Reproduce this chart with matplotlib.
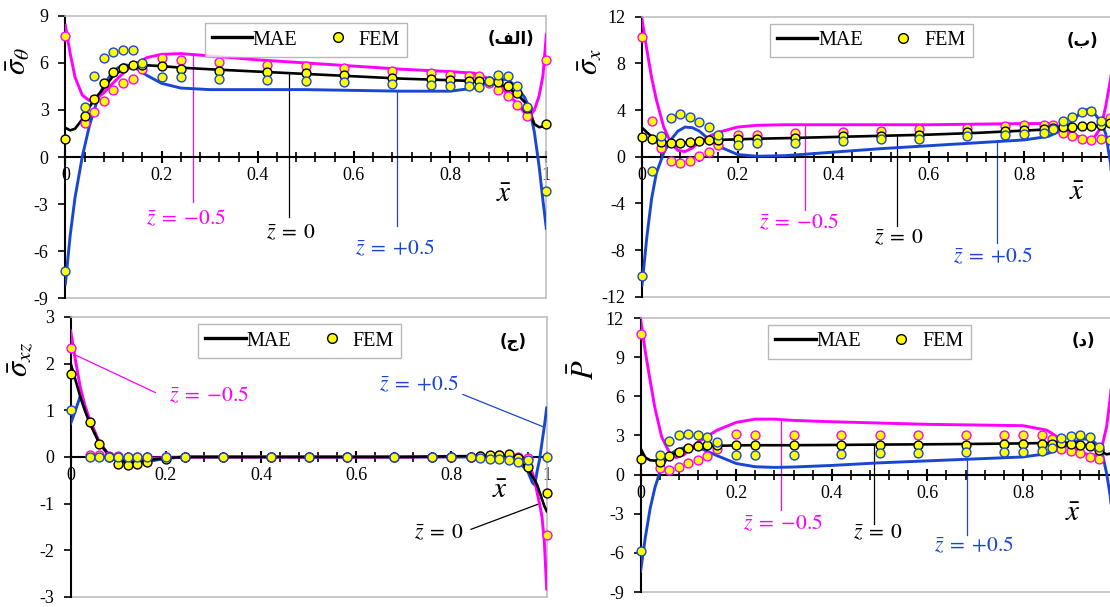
import matplotlib.pyplot as plt
from matplotlib.lines import Line2D
from matplotlib.ticker import MultipleLocator

plt.rcParams['font.family'] = ['Liberation Serif', 'DejaVu Sans']
plt.rcParams['mathtext.fontset'] = 'stix'
plt.rcParams['axes.unicode_minus'] = False

MAG = '#FF00FF'
BLU = '#1A47D0'
GRY = '#BFBFBF'
YEL = '#FFFF00'

# ---------- (الف) sigma_theta ----------
t_x = [0, 0.01, 0.02, 0.035, 0.05, 0.065, 0.08, 0.1, 0.12, 0.14, 0.17, 0.2, 0.24, 0.3, 0.4,
       0.5, 0.6, 0.7, 0.8, 0.85, 0.88, 0.9, 0.92, 0.94, 0.955, 0.965, 0.975, 0.985, 0.993, 1.0]
t_neg = [8.4, 6.6, 5.1, 3.95, 3.6, 3.75, 4.1, 4.75, 5.35, 5.85, 6.35, 6.55, 6.6, 6.45, 6.2,
         6.0, 5.8, 5.6, 5.45, 5.35, 5.0, 4.6, 4.0, 3.4, 2.8, 2.6, 3.0, 3.9, 5.2, 7.8]
t_mid = [1.86, 1.7, 1.8, 2.4, 3.2, 3.85, 4.4, 5.2, 5.6, 5.85, 5.85, 5.8, 5.7, 5.6, 5.45,
         5.3, 5.15, 5.0, 4.9, 4.85, 4.8, 4.7, 4.4, 4.0, 3.5, 3.0, 2.1, 1.9, 1.95, 2.05]
t_pos = [-8.1, -5.0, -2.6, 0.0, 2.0, 3.5, 4.6, 5.5, 5.9, 5.8, 5.2, 4.7, 4.4, 4.3, 4.3,
         4.3, 4.25, 4.2, 4.2, 4.4, 4.75, 4.95, 4.95, 4.4, 3.8, 3.1, 1.6, -0.6, -2.8, -4.55]

fem_x = [0, 0.04, 0.06, 0.08, 0.10, 0.12, 0.14, 0.16, 0.20, 0.24, 0.32, 0.42, 0.50,
         0.58, 0.68, 0.76, 0.80, 0.84, 0.86, 0.88, 0.90, 0.92, 0.94, 0.96, 1.0]
t_fem_neg = [7.7, 2.2, 2.9, 3.6, 4.25, 4.7, 4.95, 5.6, 6.3, 6.2, 6.05, 5.9, 5.8,
             5.65, 5.5, 5.35, 5.25, 5.2, 5.2, 4.7, 4.3, 3.9, 3.35, 2.6, 6.2]
t_fem_mid = [1.15, 2.6, 3.7, 4.7, 5.4, 5.7, 5.85, 5.85, 5.8, 5.6, 5.5, 5.4, 5.35,
             5.25, 5.05, 4.95, 4.9, 4.85, 4.85, 4.85, 4.8, 4.55, 4.1, 3.1, 2.1]
t_fem_pos = [-7.3, 3.2, 5.2, 6.3, 6.7, 6.8, 6.8, 6.0, 5.1, 5.1, 5.0, 4.9, 4.85,
             4.8, 4.65, 4.6, 4.55, 4.5, 4.45, 4.85, 5.25, 5.2, 4.5, 3.2, -2.15]

# ---------- (ب) sigma_x ----------
s_x = [0, 0.01, 0.02, 0.03, 0.045, 0.06, 0.075, 0.09, 0.105, 0.12, 0.14, 0.16, 0.2, 0.24, 0.3,
       0.4, 0.5, 0.6, 0.7, 0.8, 0.85, 0.88, 0.9, 0.915, 0.93, 0.945, 0.96, 0.97, 0.98, 0.99, 1.0]
s_neg = [11.8, 9.2, 6.8, 4.9, 2.6, 1.2, 0.55, 0.45, 0.75, 1.25, 1.75, 2.1, 2.55, 2.7, 2.75,
         2.75, 2.75, 2.75, 2.8, 2.85, 2.85, 2.5, 2.0, 1.7, 1.55, 1.6, 2.5, 4.3, 6.6, 9.5, 12.0]
s_mid = [2.5, 2.1, 1.75, 1.5, 1.3, 1.2, 1.15, 1.2, 1.3, 1.35, 1.45, 1.45, 1.5, 1.55, 1.6,
         1.7, 1.8, 1.9, 2.05, 2.25, 2.35, 2.4, 2.5, 2.55, 2.6, 2.6, 2.65, 2.7, 2.7, 2.6, 2.5]
s_pos = [-11.0, -6.9, -3.6, -1.4, 0.3, 1.45, 2.2, 2.55, 2.5, 2.2, 1.5, 0.9, 0.2, 0.05, 0.1,
         0.4, 0.7, 0.95, 1.2, 1.45, 1.75, 2.3, 3.0, 3.7, 4.05, 3.8, 3.0, 2.0, -0.5, -5.0, -11.0]

s_fem_x = [0, 0.02, 0.04, 0.06, 0.08, 0.10, 0.12, 0.14, 0.16, 0.20, 0.24, 0.32, 0.42, 0.50,
           0.58, 0.68, 0.76, 0.80, 0.84, 0.86, 0.88, 0.90, 0.92, 0.94, 0.96, 0.98, 1.0]
s_fem_neg = [10.3, 3.05, 0.75, -0.35, -0.55, -0.35, 0.1, 0.45, 1.0, 1.9, 1.9, 2.05, 2.15, 2.25,
             2.35, 2.5, 2.6, 2.7, 2.75, 2.7, 2.0, 1.75, 1.55, 1.4, 1.55, 3.3, 10.3]
s_fem_mid = [1.7, 1.55, 1.25, 1.15, 1.15, 1.25, 1.35, 1.4, 1.4, 1.5, 1.5, 1.6, 1.75, 1.8,
             1.9, 2.1, 2.25, 2.3, 2.4, 2.5, 2.55, 2.55, 2.6, 2.65, 2.7, 2.9, 1.7]
s_fem_pos = [-10.2, -1.2, 1.75, 3.3, 3.7, 3.4, 2.95, 2.55, 1.85, 1.05, 1.15, 1.2, 1.35, 1.5,
             1.55, 1.75, 1.9, 1.95, 2.05, 2.35, 3.1, 3.4, 3.85, 3.95, 3.05, 1.45, -10.2]

# ---------- (ج) sigma_xz ----------
q_x = [0, 0.01, 0.02, 0.03, 0.04, 0.06, 0.08, 0.1, 0.12, 0.14, 0.16, 0.2, 0.24, 0.3, 0.5,
       0.7, 0.84, 0.88, 0.9, 0.92, 0.94, 0.96, 0.97, 0.975, 0.98, 0.985, 0.99, 0.995, 1.0]
q_neg = [2.7, 2.07, 1.5, 1.1, 0.8, 0.32, 0.05, -0.02, -0.05, -0.05, -0.04, -0.01, 0.0, 0.0, 0.0,
         0.0, 0.01, 0.02, 0.02, 0.01, -0.03, -0.13, -0.34, -0.5, -0.77, -1.0, -1.27, -1.8, -2.83]
q_mid = [2.0, 1.65, 1.3, 1.0, 0.72, 0.3, 0.05, -0.06, -0.1, -0.1, -0.07, -0.02, 0.0, 0.0, 0.0,
         0.0, 0.02, 0.03, 0.03, 0.01, -0.05, -0.25, -0.42, -0.5, -0.6, -0.75, -0.9, -1.05, -1.16]
q_pos = [0.72, 1.0, 1.3, 1.0, 0.76, 0.3, 0.03, -0.1, -0.12, -0.12, -0.1, -0.03, 0.0, 0.0, 0.0,
         0.0, 0.0, 0.0, 0.0, -0.02, -0.1, -0.3, -0.55, -0.6, -0.3, -0.06, 0.3, 0.65, 1.05]

q_fem_neg = [2.34, 0.05, 0.04, 0.02, 0.02, 0.01, 0.01, 0.01, 0.0, 0.0, 0.0, 0.0, 0.0,
             0.0, 0.0, 0.0, 0.0, 0.01, 0.02, 0.02, 0.04, 0.03, 0.0, -0.02, -1.68]
q_fem_mid = [1.78, 0.74, 0.28, 0.01, -0.14, -0.17, -0.15, -0.11, -0.04, 0.0, 0.0, 0.0, 0.0,
             0.0, 0.0, 0.0, 0.0, 0.0, 0.02, 0.04, 0.05, 0.06, -0.02, -0.22, -0.78]
q_fem_pos = [1.0, 0.0, 0.0, 0.0, 0.0, -0.01, -0.01, -0.01, -0.01, -0.01, -0.01, -0.01, -0.01,
             -0.01, -0.01, -0.01, -0.01, -0.01, -0.03, -0.04, -0.05, -0.06, -0.11, -0.07, 0.0]

# ---------- (د) P ----------
p_x = [0, 0.01, 0.02, 0.03, 0.044, 0.06, 0.074, 0.09, 0.12, 0.16, 0.2, 0.24, 0.28, 0.32, 0.4,
       0.5, 0.6, 0.7, 0.8, 0.85, 0.88, 0.9, 0.92, 0.94, 0.955, 0.965, 0.975, 0.982, 0.99, 1.0]
p_neg = [11.95, 9.4, 7.2, 5.1, 2.9, 1.7, 1.3, 1.5, 2.5, 3.4, 4.0, 4.25, 4.25, 4.15, 4.05,
         3.95, 3.85, 3.8, 3.75, 3.4, 2.7, 2.15, 1.7, 1.5, 1.5, 2.1, 3.65, 5.7, 8.5, 12.0]
p_mid = [2.0, 1.3, 1.1, 1.07, 1.2, 1.45, 1.65, 1.85, 2.1, 2.2, 2.24, 2.25, 2.25, 2.25, 2.27,
         2.3, 2.32, 2.35, 2.39, 2.42, 2.45, 2.42, 2.35, 2.2, 2.0, 1.75, 1.55, 1.6, 1.8, 2.0]
p_pos = [-7.4, -4.8, -2.6, -1.0, 0.6, 1.5, 1.85, 2.05, 2.1, 1.45, 0.85, 0.6, 0.55, 0.58, 0.7,
         0.9, 1.05, 1.2, 1.35, 1.6, 2.0, 2.35, 2.7, 2.75, 2.3, 1.8, 0.1, -1.5, -4.0, -7.4]

p_fem_neg = [10.8, 0.5, 0.35, 0.56, 0.86, 1.14, 1.4, 1.98, 3.1, 3.05, 3.05, 3.05, 3.05,
             3.05, 3.05, 3.05, 3.05, 3.03, 2.7, 1.96, 1.83, 1.65, 1.32, 1.2, 10.8]
p_fem_mid = [1.22, 1.0, 1.4, 1.73, 2.03, 2.16, 2.24, 2.24, 2.24, 2.24, 2.24, 2.26, 2.26,
             2.28, 2.29, 2.31, 2.31, 2.34, 2.36, 2.39, 2.36, 2.29, 2.16, 1.85, 1.22]
p_fem_pos = [-5.85, 1.5, 2.6, 3.05, 3.13, 3.05, 2.87, 2.47, 1.53, 1.53, 1.53, 1.58, 1.63,
             1.66, 1.73, 1.75, 1.75, 1.78, 2.03, 2.8, 2.92, 3.05, 2.85, 2.1, -5.85]

x_ticks = [0, 0.2, 0.4, 0.6, 0.8, 1.0]
x_labels = ['0', '0.2', '0.4', '0.6', '0.8', '1']


def panel(ax, cx, curves, fx, fems, ylim, ystep, ylab, ylab_xy, tag, tag_xy, leg_x, xlab_xy,
          notes, cut_right=False):
    neg, mid, pos = curves
    ax.plot(cx, pos, color=BLU, lw=2.1, zorder=3)
    ax.plot(cx, neg, color=MAG, lw=2.1, zorder=3)
    ax.plot(cx, mid, color='black', lw=1.9, zorder=3)
    for ys, ec in zip(fems, [MAG, 'black', BLU]):
        ax.plot(fx, ys, 'o', ms=6.4, mfc=YEL, mec=ec, mew=1.0, ls='none', zorder=4, clip_on=False)

    ax.set_xlim(0, 1)
    ax.set_ylim(*ylim)
    ax.set_yticks(range(ylim[0], ylim[1] + 1, ystep))
    ax.xaxis.set_minor_locator(MultipleLocator(0.04))
    if cut_right:
        # the right edge of these panels falls outside the picture
        ax.set_xticks(x_ticks[:-1])
        ax.set_xticklabels(x_labels[:-1])
    else:
        ax.set_xticks(x_ticks)
        ax.set_xticklabels(x_labels)

    ax.spines['bottom'].set_position(('data', 0))
    ax.spines['bottom'].set_linewidth(1.5)
    ax.spines['left'].set_linewidth(1.5)
    for s in ['top', 'right']:
        ax.spines[s].set_color(GRY)
        ax.spines[s].set_linewidth(1.2)
    ax.plot([0, 1], [0, 0], transform=ax.transAxes, color=GRY, lw=1.2, clip_on=False)

    ax.tick_params(axis='x', which='major', direction='inout', length=9, width=1.5,
                   labelsize=13, pad=3)
    ax.tick_params(axis='x', which='minor', direction='inout', length=7, width=1.2)
    ax.tick_params(axis='y', direction='out', length=5, width=1.2, labelsize=13, pad=7)

    ax.text(ylab_xy[0], ylab_xy[1], ylab, transform=ax.transAxes, rotation=90,
            fontsize=22, ha='center', va='center')
    ax.text(xlab_xy[0], xlab_xy[1], r'$\bar{x}$', fontsize=21, ha='center', va='center')
    ax.text(tag_xy[0], tag_xy[1], tag, transform=ax.transAxes, fontsize=12,
            family=['DejaVu Sans'], fontweight='bold', ha='center', va='center')

    for txt, col, (x1, y1, x2, y2), (tx, ty) in notes:
        ax.plot([x1, x2], [y1, y2], color=col, lw=0.9, zorder=2)
        ax.text(tx, ty, txt, color=col, fontsize=15.5, ha='center', va='center')

    handles = [Line2D([], [], color='black', lw=2.4),
               Line2D([], [], marker='o', ls='none', ms=7, mfc=YEL, mec='black', mew=1.0)]
    leg = ax.legend(handles, ['MAE', 'FEM'], loc='upper center', bbox_to_anchor=(leg_x, 0.988),
                    ncol=2, fontsize=14.5, frameon=True, fancybox=False, edgecolor='#A6A6A6',
                    handlelength=2.0, handletextpad=0.05, columnspacing=1.0, borderpad=0.35,
                    borderaxespad=0.2)
    leg.get_frame().set_linewidth(1.0)


fig = plt.figure(figsize=(11.1, 6.07), dpi=100)
ax1 = fig.add_axes([0.0589, 0.509, 0.4333, 0.4647])
ax2 = fig.add_axes([0.5784, 0.511, 0.4306, 0.4613])
ax3 = fig.add_axes([0.0637, 0.0165, 0.4288, 0.4613])
ax4 = fig.add_axes([0.5771, 0.0247, 0.4306, 0.4514])

Z_NEG = r'$\bar{z}\;=\;{-}0.5$'
Z_MID = r'$\bar{z}\;=\;0$'
Z_POS = r'$\bar{z}\;=\;{+}0.5$'

panel(ax1, t_x, (t_neg, t_mid, t_pos), fem_x, (t_fem_neg, t_fem_mid, t_fem_pos),
      (-9, 9), 3, r'$\bar{\sigma}_\theta$', (-0.098, 0.84), '(\ufed2\ufedf\ufe8d)', (0.926, 0.917),
      0.50, (0.911, -2.4),
      [(Z_NEG, MAG, (0.266, 6.6, 0.266, -2.9), (0.252, -3.95)),
       (Z_MID, 'black', (0.465, 5.35, 0.465, -3.85), (0.469, -4.86)),
       (Z_POS, BLU, (0.69, 4.2, 0.69, -4.38), (0.686, -5.86))])

panel(ax2, s_x, (s_neg, s_mid, s_pos), s_fem_x, (s_fem_neg, s_fem_mid, s_fem_pos),
      (-12, 12), 4, r'$\bar{\sigma}_x$', (-0.108, 0.84), '(\ufe8f)', (0.922, 0.913),
      0.48, (0.91, -3.1),
      [(Z_NEG, MAG, (0.34, 2.75, 0.34, -4.57), (0.328, -5.7)),
       (Z_MID, 'black', (0.534, 1.82, 0.534, -5.9), (0.537, -7.0)),
       (Z_POS, BLU, (0.743, 1.3, 0.743, -7.4), (0.735, -8.6))],
      cut_right=True)

panel(ax3, q_x, (q_neg, q_mid, q_pos), fem_x, (q_fem_neg, q_fem_mid, q_fem_pos),
      (-3, 3), 1, r'$\bar{\sigma}_{xz}$', (-0.104, 0.847), '(\ufe9d)', (0.929, 0.911),
      0.481, (0.902, -0.73),
      [(Z_NEG, MAG, (0.011, 2.18, 0.178, 1.38), (0.29, 1.31)),
       (Z_POS, BLU, (0.824, 1.34, 0.992, 0.65), (0.733, 1.54)),
       (Z_MID, 'black', (0.841, -1.55, 0.985, -1.0), (0.773, -1.64))])

panel(ax4, p_x, (p_neg, p_mid, p_pos), fem_x, (p_fem_neg, p_fem_mid, p_fem_pos),
      (-9, 12), 3, r'$\bar{P}$', (-0.114, 0.81), '(\ufea9)', (0.926, 0.915),
      0.479, (0.904, -3.05),
      [(Z_NEG, MAG, (0.293, 4.15, 0.293, -2.7), (0.298, -3.76)),
       (Z_MID, 'black', (0.4875, 2.29, 0.4875, -3.8), (0.496, -4.5)),
       (Z_POS, BLU, (0.682, 1.2, 0.682, -4.6), (0.697, -5.5))],
      cut_right=True)

fig.savefig('out.png', dpi=100)
